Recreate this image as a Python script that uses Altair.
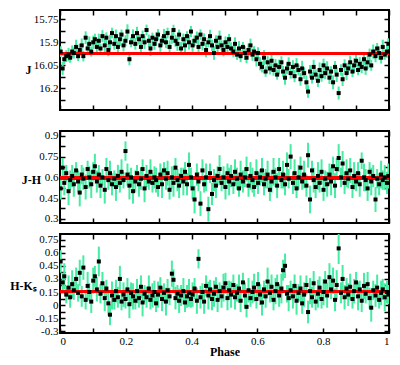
import json
import altair as alt
import pandas as pd

# ---------------- data ----------------
PHASE = [
    0.002, 0.008, 0.013, 0.019, 0.026, 0.031, 0.037, 0.042, 0.049, 0.055,
    0.060, 0.066, 0.071, 0.078, 0.084, 0.089, 0.095, 0.101, 0.106, 0.112,
    0.118, 0.123, 0.129, 0.136, 0.141, 0.147, 0.152, 0.158, 0.165, 0.170,
    0.176, 0.182, 0.187, 0.193, 0.199, 0.205, 0.211, 0.216, 0.222, 0.229,
    0.234, 0.240, 0.246, 0.251, 0.257, 0.263, 0.270, 0.275, 0.281, 0.287,
    0.292, 0.298, 0.305, 0.310, 0.316, 0.322, 0.327, 0.333, 0.340, 0.345,
    0.351, 0.357, 0.362, 0.368, 0.375, 0.380, 0.386, 0.392, 0.398, 0.403,
    0.409, 0.416, 0.421, 0.427, 0.433, 0.438, 0.444, 0.451, 0.456, 0.462,
    0.468, 0.474, 0.479, 0.485, 0.491, 0.497, 0.503, 0.509, 0.514, 0.520,
    0.527, 0.532, 0.538, 0.544, 0.549, 0.556, 0.562, 0.567, 0.573, 0.579,
    0.585, 0.590, 0.597, 0.602, 0.608, 0.614, 0.620, 0.625, 0.631, 0.638,
    0.643, 0.649, 0.655, 0.660, 0.666, 0.673, 0.678, 0.684, 0.690, 0.695,
    0.701, 0.708, 0.713, 0.719, 0.725, 0.731, 0.736, 0.742, 0.749, 0.754,
    0.760, 0.766, 0.771, 0.777, 0.784, 0.789, 0.795, 0.801, 0.806, 0.812,
    0.819, 0.824, 0.830, 0.836, 0.841, 0.847, 0.854, 0.859, 0.865, 0.871,
    0.876, 0.882, 0.889, 0.894, 0.900, 0.906, 0.911, 0.917, 0.924, 0.929,
    0.935, 0.941, 0.946, 0.952, 0.959, 0.964, 0.970, 0.976, 0.981, 0.987,
    0.994, 0.998,
]

J = [
    15.96, 16.07, 16.01, 15.99, 15.98, 16.00, 15.96, 15.97, 15.93, 15.99,
    15.95, 15.92, 15.99, 15.87, 15.94, 15.91, 15.96, 15.90, 15.88, 15.93,
    15.89, 15.94, 15.86, 15.92, 15.87, 15.95, 15.90, 15.84, 15.91, 15.86,
    15.93, 15.88, 15.85, 15.92, 15.89, 15.83, 16.01, 15.90, 15.86, 15.91,
    15.84, 15.88, 15.93, 15.86, 15.90, 15.82, 15.89, 15.94, 15.87, 15.91,
    15.88, 15.85, 15.92, 15.89, 15.86, 15.90, 15.84, 15.93, 15.87, 15.82,
    15.89, 15.91, 15.85, 15.94, 15.88, 15.92, 15.86, 15.90, 15.83, 15.92,
    15.89, 15.87, 15.93, 15.85, 15.91, 15.88, 15.95, 15.90, 15.86, 15.92,
    15.97, 15.89, 15.93, 15.87, 15.92, 15.95, 15.90, 15.93, 15.88, 15.94,
    15.96, 15.91, 15.98, 15.94, 15.99, 15.93, 15.97, 16.00, 15.95, 15.92,
    15.98, 15.96, 16.01, 15.97, 16.04, 16.06, 16.00, 16.09, 16.03, 16.07,
    16.02, 16.08, 16.05, 16.11, 16.06, 16.03, 16.09, 16.13, 16.07, 16.04,
    16.10, 16.06, 16.12, 16.05, 16.08, 16.14, 16.07, 16.10, 16.16, 16.22,
    16.09, 16.13, 16.06, 16.11, 16.15, 16.08, 16.12, 16.05, 16.10, 16.07,
    16.13, 16.09, 16.16, 16.06, 16.11, 16.23, 16.08, 16.14, 16.05, 16.10,
    16.07, 16.03, 16.09, 16.05, 16.02, 16.08, 16.04, 16.06, 16.01, 16.07,
    16.03, 15.98, 16.05, 15.96, 15.99, 15.94, 15.97, 16.00, 15.93, 15.98,
    15.96, 15.91,
]
J_ERR = [
    0.035, 0.042, 0.031, 0.038, 0.044, 0.033, 0.040, 0.036, 0.047, 0.032,
    0.039, 0.045, 0.034, 0.041, 0.037, 0.048, 0.033, 0.043, 0.036, 0.040,
    0.046, 0.032, 0.039, 0.044, 0.035, 0.041, 0.049, 0.034, 0.038, 0.043,
    0.037, 0.045, 0.033, 0.040, 0.036, 0.047, 0.039, 0.032, 0.044, 0.038,
    0.041, 0.034, 0.046, 0.037, 0.043, 0.035, 0.040, 0.048, 0.033, 0.039,
    0.044, 0.036, 0.042, 0.031, 0.047, 0.038, 0.035, 0.043, 0.040, 0.034,
    0.039, 0.046, 0.033, 0.041, 0.037, 0.044, 0.032, 0.048, 0.036, 0.042,
    0.035, 0.040, 0.045, 0.034, 0.043, 0.038, 0.047, 0.031, 0.041, 0.037,
    0.044, 0.036, 0.039, 0.046, 0.033, 0.042, 0.038, 0.045, 0.035, 0.040,
    0.037, 0.043, 0.034, 0.048, 0.039, 0.032, 0.045, 0.036, 0.041, 0.044,
    0.040, 0.035, 0.047, 0.038, 0.043, 0.036, 0.049, 0.034, 0.042, 0.039,
    0.045, 0.037, 0.041, 0.033, 0.048, 0.040, 0.036, 0.046, 0.038, 0.043,
    0.036, 0.044, 0.039, 0.047, 0.035, 0.042, 0.050, 0.037, 0.045, 0.041,
    0.043, 0.038, 0.046, 0.034, 0.040, 0.049, 0.036, 0.044, 0.039, 0.047,
    0.041, 0.035, 0.045, 0.038, 0.048, 0.042, 0.037, 0.044, 0.040, 0.046,
    0.038, 0.043, 0.036, 0.047, 0.039, 0.034, 0.045, 0.041, 0.037, 0.042,
    0.044, 0.039, 0.035, 0.046, 0.040, 0.036, 0.043, 0.038, 0.047, 0.033,
    0.041, 0.037,
]

JH = [
    0.52, 0.67, 0.56, 0.63, 0.50, 0.58, 0.61, 0.55, 0.65, 0.57,
    0.49, 0.62, 0.59, 0.53, 0.66, 0.60, 0.55, 0.64, 0.68, 0.57,
    0.62, 0.54, 0.60, 0.51, 0.66, 0.58, 0.63, 0.55, 0.59, 0.53,
    0.61, 0.56, 0.64, 0.58, 0.79, 0.62, 0.54, 0.60, 0.50, 0.57,
    0.63, 0.55, 0.59, 0.66, 0.52, 0.61, 0.57, 0.64, 0.56, 0.60,
    0.58, 0.53, 0.62, 0.55, 0.65, 0.59, 0.63, 0.51, 0.60, 0.56,
    0.67, 0.58, 0.54, 0.61, 0.57, 0.64, 0.55, 0.69, 0.60, 0.52,
    0.44, 0.62, 0.57, 0.41, 0.65, 0.55, 0.60, 0.37, 0.63, 0.48,
    0.58, 0.54, 0.61, 0.66, 0.56, 0.60, 0.53, 0.63, 0.57, 0.61,
    0.55, 0.64, 0.59, 0.52, 0.62, 0.57, 0.60, 0.66, 0.54, 0.61,
    0.58, 0.53, 0.63, 0.56, 0.60, 0.65, 0.55, 0.59, 0.62, 0.51,
    0.57, 0.64, 0.60, 0.54, 0.66, 0.58, 0.62, 0.55, 0.69, 0.59,
    0.75, 0.56, 0.63, 0.52, 0.60, 0.67, 0.57, 0.62, 0.54, 0.76,
    0.44, 0.65, 0.58, 0.53, 0.61, 0.56, 0.64, 0.51, 0.59, 0.55,
    0.62, 0.57, 0.68, 0.54, 0.66, 0.74, 0.60, 0.70, 0.56, 0.63,
    0.59, 0.65, 0.53, 0.61, 0.57, 0.63, 0.55, 0.72, 0.60, 0.58,
    0.52, 0.64, 0.57, 0.61, 0.44, 0.59, 0.55, 0.62, 0.58, 0.60,
    0.56, 0.61,
]
JH_ERR = [
    0.08, 0.07, 0.09, 0.06, 0.10, 0.07, 0.08, 0.09, 0.06, 0.08,
    0.10, 0.07, 0.08, 0.09, 0.06, 0.08, 0.10, 0.07, 0.09, 0.08,
    0.07, 0.09, 0.06, 0.10, 0.08, 0.07, 0.09, 0.08, 0.06, 0.10,
    0.08, 0.07, 0.09, 0.06, 0.07, 0.08, 0.10, 0.07, 0.09, 0.08,
    0.06, 0.09, 0.08, 0.07, 0.10, 0.08, 0.06, 0.09, 0.07, 0.08,
    0.09, 0.07, 0.08, 0.10, 0.06, 0.08, 0.09, 0.07, 0.08, 0.10,
    0.07, 0.08, 0.09, 0.06, 0.10, 0.07, 0.08, 0.09, 0.07, 0.08,
    0.10, 0.08, 0.07, 0.09, 0.08, 0.06, 0.10, 0.09, 0.07, 0.08,
    0.08, 0.09, 0.07, 0.10, 0.06, 0.08, 0.09, 0.07, 0.10, 0.08,
    0.07, 0.09, 0.08, 0.06, 0.10, 0.08, 0.07, 0.09, 0.08, 0.10,
    0.09, 0.07, 0.10, 0.08, 0.06, 0.09, 0.08, 0.07, 0.10, 0.08,
    0.08, 0.10, 0.07, 0.09, 0.08, 0.06, 0.10, 0.08, 0.09, 0.07,
    0.09, 0.08, 0.10, 0.07, 0.09, 0.08, 0.06, 0.10, 0.08, 0.09,
    0.10, 0.07, 0.09, 0.08, 0.10, 0.07, 0.09, 0.08, 0.06, 0.09,
    0.08, 0.10, 0.07, 0.09, 0.08, 0.10, 0.07, 0.09, 0.08, 0.10,
    0.07, 0.09, 0.08, 0.10, 0.07, 0.08, 0.09, 0.06, 0.10, 0.08,
    0.09, 0.07, 0.10, 0.08, 0.09, 0.07, 0.08, 0.10, 0.07, 0.09,
    0.08, 0.09,
]

HK = [
    0.50, 0.26, 0.33, 0.12, 0.20, 0.09, 0.24, 0.17, 0.30, 0.14,
    0.37, 0.10, 0.43, 0.06, 0.22, 0.15, 0.04, 0.28, 0.33, 0.18,
    0.50, 0.13, 0.25, 0.08, 0.19, 0.02, -0.11, 0.11, 0.06, 0.16,
    0.09, 0.30, 0.04, 0.12, 0.07, 0.18, 0.01, 0.14, 0.10, 0.05,
    0.16, 0.08, 0.21, 0.03, 0.13, 0.09, 0.19, 0.06, 0.11, 0.15,
    0.02, 0.12, 0.20, 0.07, 0.14, 0.04, 0.17, 0.10, 0.36, 0.29,
    0.08, 0.13, 0.05, 0.11, 0.16, 0.03, 0.10, 0.14, 0.07, 0.12,
    0.19, 0.05, 0.53, 0.09, 0.15, 0.04, 0.22, 0.11, 0.18, 0.07,
    0.13, 0.21, 0.06, 0.16, 0.10, 0.20, 0.25, 0.08, 0.17, 0.12,
    0.23, 0.09, 0.14, 0.19, 0.05, 0.26, 0.11, -0.02, 0.17, 0.08,
    0.15, 0.20, 0.07, 0.24, 0.12, 0.03, 0.18, 0.10, 0.27, 0.14,
    0.21, 0.06, 0.16, 0.24, 0.11, 0.19, 0.40, 0.45, 0.13, 0.08,
    0.17, 0.10, 0.22, 0.05, 0.14, 0.19, 0.02, 0.12, 0.23, -0.08,
    0.16, 0.09, 0.25, 0.04, 0.13, 0.20, 0.07, 0.15, 0.27, 0.11,
    0.32, 0.18, 0.28, 0.06, 0.23, 0.65, 0.14, 0.30, 0.09, 0.19,
    0.12, 0.21, 0.07, 0.16, 0.26, 0.10, 0.18, 0.05, 0.22, 0.13,
    0.24, 0.08, -0.03, 0.17, 0.11, 0.20, 0.06, 0.14, 0.18, 0.09,
    0.15, 0.12,
]
HK_ERR = [
    0.13, 0.11, 0.15, 0.10, 0.14, 0.12, 0.16, 0.11, 0.13, 0.10,
    0.15, 0.12, 0.14, 0.11, 0.16, 0.10, 0.13, 0.15, 0.12, 0.14,
    0.17, 0.11, 0.13, 0.15, 0.10, 0.14, 0.12, 0.16, 0.11, 0.13,
    0.12, 0.15, 0.10, 0.14, 0.11, 0.13, 0.16, 0.12, 0.15, 0.10,
    0.14, 0.11, 0.13, 0.16, 0.10, 0.12, 0.15, 0.11, 0.14, 0.13,
    0.10, 0.15, 0.12, 0.14, 0.11, 0.16, 0.13, 0.10, 0.15, 0.12,
    0.13, 0.10, 0.14, 0.12, 0.15, 0.11, 0.13, 0.16, 0.10, 0.14,
    0.12, 0.15, 0.11, 0.13, 0.10, 0.14, 0.12, 0.16, 0.11, 0.13,
    0.15, 0.11, 0.14, 0.10, 0.13, 0.16, 0.12, 0.14, 0.11, 0.15,
    0.12, 0.14, 0.10, 0.16, 0.13, 0.11, 0.15, 0.12, 0.14, 0.10,
    0.13, 0.16, 0.11, 0.14, 0.12, 0.15, 0.10, 0.13, 0.16, 0.11,
    0.14, 0.12, 0.15, 0.11, 0.13, 0.17, 0.12, 0.14, 0.10, 0.15,
    0.11, 0.14, 0.13, 0.16, 0.10, 0.15, 0.12, 0.14, 0.11, 0.13,
    0.15, 0.12, 0.14, 0.10, 0.16, 0.13, 0.11, 0.15, 0.12, 0.14,
    0.16, 0.11, 0.15, 0.13, 0.17, 0.18, 0.12, 0.16, 0.14, 0.12,
    0.13, 0.15, 0.11, 0.14, 0.12, 0.16, 0.10, 0.13, 0.15, 0.11,
    0.14, 0.12, 0.16, 0.11, 0.13, 0.15, 0.10, 0.14, 0.12, 0.16,
    0.13, 0.11,
]

MEAN_J = 15.975
MEAN_JH = 0.595
MEAN_HK = 0.155

X_TICKS = [0.0, 0.1, 0.2, 0.3, 0.4, 0.5, 0.6, 0.7, 0.8, 0.9, 1.0]
J_MAJOR = [15.75, 15.9, 16.05, 16.2]
J_MINOR = [15.825, 15.975, 16.125, 16.275]
JH_MAJOR = [0.3, 0.45, 0.6, 0.75, 0.9]
JH_MINOR = [0.375, 0.525, 0.675, 0.825]
HK_MAJOR = [-0.3, -0.15, 0, 0.15, 0.3, 0.45, 0.6, 0.75]
HK_MINOR = [-0.225, -0.075, 0.075, 0.225, 0.375, 0.525, 0.675]

# ---------------- style ----------------
FONT = "Liberation Serif"
W = 329
BAR = "#45eca2"
TICK = 5

df = pd.DataFrame({
    "phase": PHASE,
    "J": J, "J_lo": [v - e for v, e in zip(J, J_ERR)], "J_hi": [v + e for v, e in zip(J, J_ERR)],
    "JH": JH, "JH_lo": [v - e for v, e in zip(JH, JH_ERR)], "JH_hi": [v + e for v, e in zip(JH, JH_ERR)],
    "HK": HK, "HK_lo": [v - e for v, e in zip(HK, HK_ERR)], "HK_hi": [v + e for v, e in zip(HK, HK_ERR)],
})

XS = alt.Scale(domain=[0, 1], nice=False, zero=False)


def panel(col, domain, reverse, major, minor, title, title_x, title_y, mean, h, show_x):
    ys = alt.Scale(domain=domain, reverse=reverse, nice=False, zero=False)
    yvals = sorted(major + minor)
    ylab = "indexof(%s, datum.value) >= 0 ? '' + datum.value : ''" % json.dumps(major)
    xlab = "round(datum.value * 10) % 2 == 0 ? '' + datum.value : ''"
    common = dict(grid=False, domain=False, tickSize=TICK, tickWidth=1.5,
                  tickColor="black", offset=-TICK, minExtent=0)
    bx = dict(orient="bottom", values=X_TICKS, **common)
    if show_x:
        bx.update(labels=True, labelExpr=xlab, labelPadding=2, title="Phase",
                  titlePadding=0, titleFontWeight="bold")
    else:
        bx.update(labels=False, title=None)
    x_bottom = alt.Axis(**bx)
    x_top = alt.Axis(orient="top", values=X_TICKS, labels=False, title=None, **common)
    y_left = alt.Axis(orient="left", values=yvals, labelExpr=ylab, labelPadding=2,
                      title=title, titleAngle=0, titleAlign="center",
                      titleBaseline="middle", titleX=title_x, titleY=title_y,
                      titleFontWeight="bold", **common)
    y_right = alt.Axis(orient="right", values=yvals, labels=False, title=None, **common)

    base = alt.Chart(df)
    bars = base.mark_rule(color=BAR, strokeWidth=2, clip=True).encode(
        x=alt.X("phase:Q", scale=XS, axis=x_bottom),
        y=alt.Y(col + "_lo:Q", scale=ys, axis=y_left),
        y2=alt.Y2(col + "_hi:Q"),
    )
    line = alt.Chart(df).mark_rule(color="#ff0000", strokeWidth=2.5).encode(
        y=alt.YDatum(mean, type="quantitative", scale=ys, axis=None),
    )
    pts = base.mark_square(size=16, color="black", opacity=1, clip=True).encode(
        x=alt.X("phase:Q", scale=XS, axis=x_top),
        y=alt.Y(col + ":Q", scale=ys, axis=y_right),
    )
    return alt.layer(bars, line, pts).resolve_axis(x="independent", y="independent").properties(
        width=W, height=h)


# title_x is measured from the (inward-shifted) axis line, i.e. plot edge + TICK
p1 = panel("J", [15.69, 16.34], True, J_MAJOR, J_MINOR, "J", -37, 59, MEAN_J, 100, False)
p2 = panel("JH", [0.27, 0.935], False, JH_MAJOR, JH_MINOR, "J-H", -34, 48, MEAN_JH, 92, False)
p3 = panel("HK", [-0.32, 0.815], False, HK_MAJOR, HK_MINOR, "H-Kₛ", -42, 51, MEAN_HK, 99, True)

chart = alt.vconcat(p1, alt.vconcat(p2, p3, spacing=7), spacing=16).properties(
    padding=0, background="white"
).configure_view(stroke="black", strokeWidth=2).configure_axis(
    labelFont=FONT, titleFont=FONT, labelFontSize=11, titleFontSize=12,
    labelColor="black", titleColor="black"
)

chart.save("out.html", embed_options={"renderer": "svg", "actions": False})
